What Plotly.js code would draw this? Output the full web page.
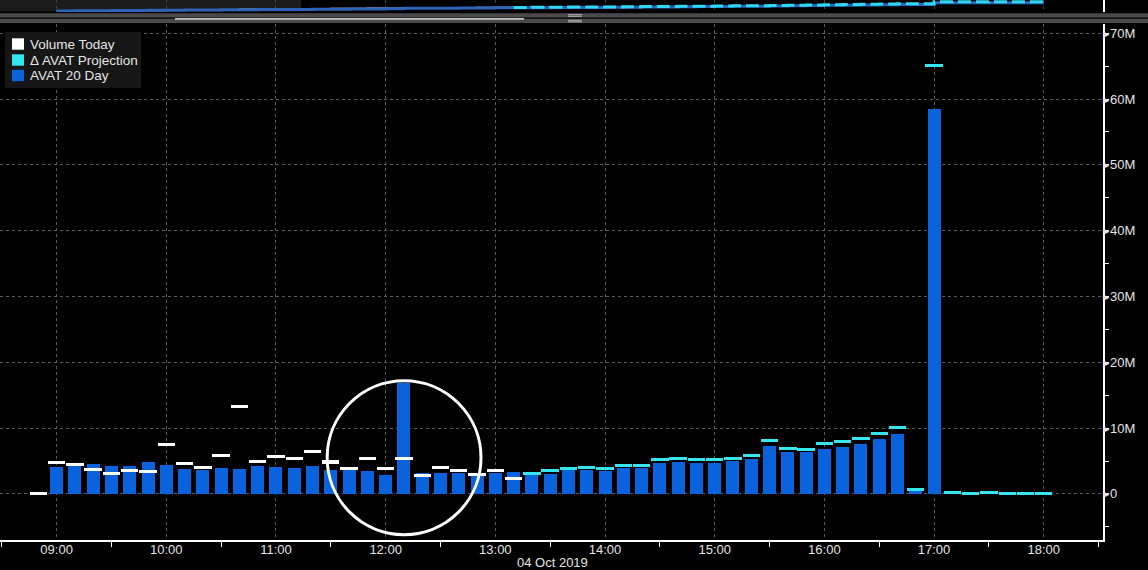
<!DOCTYPE html>
<html>
<head>
<meta charset="utf-8">
<script src="https://cdn.plot.ly/plotly-3.0.1.min.js"></script>
<style>
  html, body { margin: 0; padding: 0; background: #000; }
  #chart { width: 1148px; height: 570px; }
</style>
</head>
<body>
<div id="chart"></div>
<script>
// ---- data (values in millions of shares) ----
const DAY = '2019-10-04';
const TIMES = ['08:50','09:00','09:10','09:20','09:30','09:40','09:50',
  '10:00','10:10','10:20','10:30','10:40','10:50',
  '11:00','11:10','11:20','11:30','11:40','11:50',
  '12:00','12:10','12:20','12:30','12:40','12:50',
  '13:00','13:10','13:20','13:30','13:40','13:50',
  '14:00','14:10','14:20','14:30','14:40','14:50',
  '15:00','15:10','15:20','15:30','15:40','15:50',
  '16:00','16:10','16:20','16:30','16:40','16:50',
  '17:00','17:10','17:20','17:30','17:40','17:50','18:00'];

const AVAT_20_DAY = [null, 4.1, 4.3, 4.55, 4.25, 4.25, 4.85,
  4.4, 3.85, 3.65, 3.95, 3.8, 4.25,
  4.1, 3.95, 4.25, 3.7, 3.75, 3.5,
  2.9, 16.9, 3.15, 3.25, 3.25, 2.75,
  3.25, 3.35, 2.95, 3.05, 3.75, 3.7,
  3.55, 3.95, 3.95, 4.75, 4.9, 4.75,
  4.75, 5.05, 5.3, 7.35, 6.3, 6.3,
  6.9, 7.2, 7.65, 8.35, 9.1, 0.45,
  58.5, null, null, null, null, null, null];

const VOLUME_TODAY = [0, 4.8, 4.5, 3.75, 3.15, 3.6, 3.45,
  7.55, 4.65, 4.05, 5.9, 13.3, 4.95,
  5.7, 5.4, 6.5, 4.85, 3.9, 5.4,
  3.9, 5.45, 2.75, 4.05, 3.5, 3.0,
  3.5, 2.3, null, null, null, null,
  null, null, null, null, null, null,
  null, null, null, null, null, null,
  null, null, null, null, null, null,
  null, null, null, null, null, null, null];

const AVAT_PROJECTION = [null, null, null, null, null, null, null,
  null, null, null, null, null, null,
  null, null, null, null, null, null,
  null, null, null, null, null, null,
  null, null, 3.15, 3.5, 3.9, 4.05,
  3.9, 4.35, 4.35, 5.25, 5.4, 5.25,
  5.25, 5.4, 5.9, 8.15, 6.95, 6.8,
  7.6, 8.0, 8.45, 9.2, 10.1, 0.7,
  65.1, 0.2, 0.05, 0.15, 0.05, 0.05, 0.05];

const X_TICK_TIMES = ['09:00','10:00','11:00','12:00','13:00','14:00','15:00','16:00','17:00','18:00'];
const Y_TICK_VALUES = [0, 10, 20, 30, 40, 50, 60, 70];
const Y_TICK_LABELS = ['0', '10M', '20M', '30M', '40M', '50M', '60M', '70M'];
const LEGEND_NAMES = ['Volume Today', '\u0394 AVAT Projection', 'AVAT 20 Day'];
const DATE_LABEL = '04 Oct 2019';

// ---- styling ----
const C_BLUE = '#0a63dc';
const C_CYAN = '#35e6ee';
const C_WHITE = '#ffffff';
const FONT = 'Liberation Sans, Arial, sans-serif';
const TXT = '#e4e4e4';
const DASH_H = 0.46;           // dash thickness (in value units ~3px)
const BAR_W = 426000;          // ms
const DASH_W = 570000;         // ms

const X = TIMES.map(t => DAY + ' ' + t);
const dashBase = arr => arr.map(v => v == null ? null : v - DASH_H / 2);
const dashLen = arr => arr.map(v => v == null ? null : DASH_H);

// cumulative series for the navigator strip
const firstBlue = AVAT_20_DAY.findIndex(v => v != null);
const cumBlue = []; let sb = 0;
AVAT_20_DAY.forEach((v, i) => { sb += (v || 0); cumBlue.push(i >= firstBlue ? sb : null); });
const cumToday = []; const cumProj = []; let st = 0;
const lastToday = VOLUME_TODAY.reduce((a, v, i) => v != null ? i : a, 0);
TIMES.forEach((t, i) => {
  if (VOLUME_TODAY[i] != null) { st += VOLUME_TODAY[i]; cumToday.push(i >= firstBlue ? st : null); } else cumToday.push(null);
  if (i >= lastToday) {
    if (i > lastToday) st += (AVAT_PROJECTION[i] || 0);
    cumProj.push(st);
  } else cumProj.push(null);
});

const traces = [
  { type: 'bar', name: LEGEND_NAMES[2], x: X, y: AVAT_20_DAY, width: BAR_W,
    marker: { color: C_BLUE, line: { width: 0 } }, showlegend: false, hoverinfo: 'x+y' },
  { type: 'bar', name: LEGEND_NAMES[0], x: X, y: dashLen(VOLUME_TODAY), base: dashBase(VOLUME_TODAY),
    width: DASH_W, marker: { color: C_WHITE, line: { width: 0 } }, showlegend: false,
    customdata: VOLUME_TODAY, hovertemplate: '%{customdata}M<extra></extra>' },
  { type: 'bar', name: LEGEND_NAMES[1], x: X, y: dashLen(AVAT_PROJECTION), base: dashBase(AVAT_PROJECTION),
    width: DASH_W, marker: { color: C_CYAN, line: { width: 0 } }, showlegend: false,
    customdata: AVAT_PROJECTION, hovertemplate: '%{customdata}M<extra></extra>' },
  // navigator strip
  { type: 'scatter', mode: 'lines', x: X, y: cumToday, xaxis: 'x2', yaxis: 'y2',
    line: { color: '#ffffff', width: 1.5, shape: 'hv' }, showlegend: false, hoverinfo: 'skip' },
  { type: 'scatter', mode: 'lines', x: X, y: cumBlue, xaxis: 'x2', yaxis: 'y2',
    line: { color: '#2d63b8', width: 3, shape: 'hv' }, showlegend: false, hoverinfo: 'skip' },
  { type: 'scatter', mode: 'lines', x: X, y: cumProj, xaxis: 'x2', yaxis: 'y2',
    line: { color: '#2fd8f5', width: 3, shape: 'hv', dash: '13px,5px' }, showlegend: false, hoverinfo: 'skip' }
];

const W = 1148, H = 570;
const ML = 0, MR = 45, MT = 0, MB = 30;
const PW = W - ML - MR, PH = H - MT - MB;
const px = v => (v - ML) / PW;            // page x -> paper
const py = v => (H - MB - v) / PH;         // page y -> paper

const xRange = [DAY + ' 08:29:02', DAY + ' 18:32:25'];

const shapes = [
  // navigator window shading
  { type: 'rect', xref: 'paper', yref: 'paper', x0: px(0), x1: px(301), y0: py(11.5), y1: py(0),
    fillcolor: '#1b1b1b', line: { width: 0 }, layer: 'below' },
  // scroll bars
  { type: 'rect', xref: 'paper', yref: 'paper', x0: px(0), x1: px(W), y0: py(17.5), y1: py(13.3),
    fillcolor: '#4a4a4a', line: { width: 0 } },
  { type: 'rect', xref: 'paper', yref: 'paper', x0: px(0), x1: px(W), y0: py(23), y1: py(18.8),
    fillcolor: '#4a4a4a', line: { width: 0 } },
  { type: 'line', xref: 'paper', yref: 'paper', x0: px(175), x1: px(524), y0: py(18.9), y1: py(18.9),
    line: { color: '#ffffff', width: 1.2 } },
  { type: 'line', xref: 'paper', yref: 'paper', x0: px(568), x1: px(582), y0: py(14.7), y1: py(14.7), line: { color: '#b0b0b0', width: 1 } },
  { type: 'line', xref: 'paper', yref: 'paper', x0: px(568), x1: px(582), y0: py(16.3), y1: py(16.3), line: { color: '#b0b0b0', width: 1 } },
  { type: 'line', xref: 'paper', yref: 'paper', x0: px(568), x1: px(582), y0: py(20.3), y1: py(20.3), line: { color: '#b0b0b0', width: 1 } },
  { type: 'line', xref: 'paper', yref: 'paper', x0: px(568), x1: px(582), y0: py(21.9), y1: py(21.9), line: { color: '#b0b0b0', width: 1 } },
  // highlight circle
  { type: 'circle', xref: 'x', yref: 'y', x0: DAY + ' 11:28:00', x1: DAY + ' 12:52:10', y0: -6.2, y1: 17.2,
    line: { color: '#ffffff', width: 3 } },
  // legend box
  { type: 'rect', xref: 'paper', yref: 'paper', x0: px(5), x1: px(141), y0: py(88), y1: py(32),
    fillcolor: '#161616', line: { width: 0 } }
];
const legendColors = [C_WHITE, C_CYAN, C_BLUE];
const rowY = [44, 60, 75.5];
const annotations = [];
LEGEND_NAMES.forEach((n, i) => {
  shapes.push({ type: 'rect', xref: 'paper', yref: 'paper', x0: px(12), x1: px(24),
    y0: py(rowY[i] + 5.7), y1: py(rowY[i] - 5.7), fillcolor: legendColors[i], line: { width: 0 } });
  annotations.push({ xref: 'paper', yref: 'paper', x: px(27.5), y: py(rowY[i]), xanchor: 'left', yanchor: 'middle',
    text: n, showarrow: false, font: { family: FONT, size: 13.5, color: TXT } });
});
annotations.push({ xref: 'paper', yref: 'paper', x: px(552), y: py(562), xanchor: 'center', yanchor: 'middle',
  text: DATE_LABEL, showarrow: false, font: { family: FONT, size: 13, color: TXT } });

const layout = {
  width: W, height: H,
  margin: { l: ML, r: MR, t: MT, b: MB, pad: 0 },
  paper_bgcolor: '#000000', plot_bgcolor: '#000000',
  barmode: 'overlay', bargap: 0,
  showlegend: false,
  font: { family: FONT, size: 13, color: TXT },
  xaxis: {
    type: 'date', range: xRange, domain: [0, 1], anchor: 'y',
    tickmode: 'array', tickvals: X_TICK_TIMES.map(t => DAY + ' ' + t), ticktext: X_TICK_TIMES,
    ticks: '', showgrid: true, gridcolor: '#5a5a5a', griddash: 'dot', gridwidth: 1,
    showline: true, linecolor: '#ffffff', linewidth: 1.5, zeroline: false,
    tickfont: { family: FONT, size: 13, color: TXT }, ticklabelstandoff: -3,
    minor: { ticks: 'outside', ticklen: 5, tickcolor: '#ffffff', tickwidth: 1,
      tick0: DAY + ' 08:30', dtick: 3600000, showgrid: false },
    fixedrange: true
  },
  yaxis: {
    domain: [0, py(24)], anchor: 'x', side: 'right', range: [-7, 71.4],
    tickmode: 'array', tickvals: Y_TICK_VALUES, ticktext: Y_TICK_LABELS.map(l => '\u25B8' + l),
    ticks: '', showgrid: true, gridcolor: '#5a5a5a', griddash: 'dot', gridwidth: 1,
    showline: true, linecolor: '#ffffff', linewidth: 1.5, zeroline: false,
    tickfont: { family: FONT, size: 13, color: TXT }, ticklabelstandoff: -4,
    minor: { ticks: 'outside', ticklen: 4, tickcolor: '#ffffff', tickwidth: 1, tick0: 0, dtick: 5, showgrid: false },
    fixedrange: true
  },
  xaxis2: {
    type: 'date', range: xRange, domain: [0, 1], anchor: 'y2',
    tickmode: 'array', tickvals: X_TICK_TIMES.map(t => DAY + ' ' + t), showticklabels: false,
    ticks: '', showgrid: true, gridcolor: '#444444', griddash: 'dot', showline: false, zeroline: false,
    fixedrange: true
  },
  yaxis2: {
    domain: [py(12), 1], anchor: 'x2', side: 'right', range: [-30, 374],
    showgrid: false, showticklabels: false, ticks: '', zeroline: false,
    showline: true, linecolor: '#ffffff', linewidth: 1.5, fixedrange: true
  },
  shapes: shapes,
  annotations: annotations
};

Plotly.newPlot('chart', traces, layout, { displayModeBar: false, staticPlot: true });
</script>
</body>
</html>
